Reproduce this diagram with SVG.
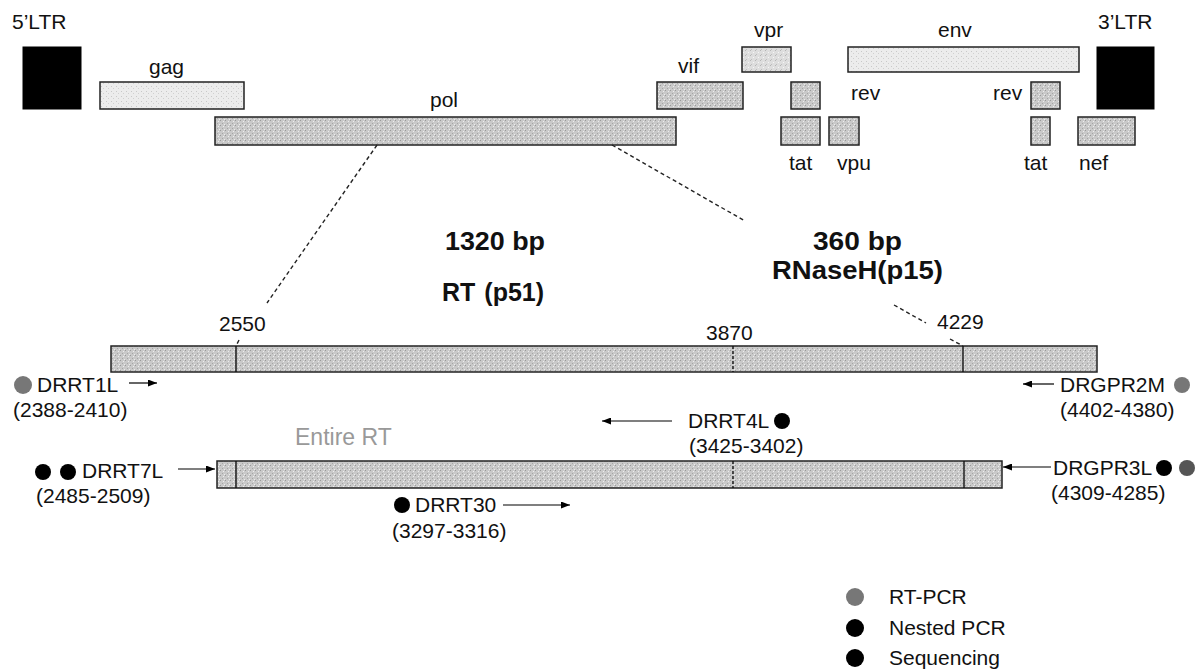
<svg xmlns="http://www.w3.org/2000/svg" width="1204" height="670" viewBox="0 0 1204 670">
<defs>
  <pattern id="stip" width="5" height="5" patternUnits="userSpaceOnUse">
    <rect width="5" height="5" fill="#c9c9c9"/>
    <rect x="0" y="0" width="1" height="1" fill="#9a9a9a"/>
    <rect x="3" y="1" width="1" height="1" fill="#eeeeee"/>
    <rect x="2" y="3" width="1" height="1" fill="#a5a5a5"/>
    <rect x="4" y="4" width="1" height="1" fill="#ececec"/>
  </pattern>
  <pattern id="stipL" width="5" height="5" patternUnits="userSpaceOnUse">
    <rect width="5" height="5" fill="#dedede"/>
    <rect x="0" y="0" width="1" height="1" fill="#b5b5b5"/>
    <rect x="3" y="2" width="1" height="1" fill="#f6f6f6"/>
    <rect x="1" y="4" width="1" height="1" fill="#bdbdbd"/>
  </pattern>
  <pattern id="stipXL" width="5" height="5" patternUnits="userSpaceOnUse">
    <rect width="5" height="5" fill="#ececec"/>
    <rect x="1" y="1" width="1" height="1" fill="#c8c8c8"/>
    <rect x="3" y="3" width="1" height="1" fill="#d0d0d0"/>
  </pattern>
  <marker id="ah" markerWidth="9" markerHeight="7" refX="9" refY="3.5" orient="auto" markerUnits="userSpaceOnUse">
    <path d="M0,0 L9,3.5 L0,7 z" fill="#000"/>
  </marker>
</defs>
<style>
  text{font-family:"Liberation Sans",Arial,sans-serif;fill:#111}
  .lbl{font-size:21px}
  .pr{font-size:21px}
  .b{font-size:25px;font-weight:bold}
  .gene{fill:url(#stip);stroke:#222;stroke-width:1.5}
  .ltr{fill:#000;stroke:#000;stroke-width:1}
  .bar{fill:url(#stip);stroke:#222;stroke-width:1.5}
  .dash{stroke:#222;stroke-width:1.4;stroke-dasharray:4 3;fill:none}
  .arr{stroke:#000;stroke-width:1.2;fill:none;marker-end:url(#ah)}
  .gdot{fill:#777}
  .kdot{fill:#000}
</style>

<!-- genome map -->
<g id="ltr5"><text class="lbl" x="12" y="29">5’LTR</text><rect class="ltr" x="23" y="47" width="58" height="62"/></g>
<g id="gag"><text class="lbl" x="149" y="74">gag</text><rect x="100" y="82" width="144" height="27" fill="url(#stipXL)" stroke="#222" stroke-width="1.5"/></g>
<g id="pol"><text class="lbl" x="430" y="107">pol</text><rect class="gene" x="215" y="117" width="461" height="28"/></g>
<g id="vif"><text class="lbl" x="678" y="73">vif</text><rect class="gene" x="657" y="82" width="86" height="27"/></g>
<g id="vpr"><text class="lbl" x="754" y="37">vpr</text><rect x="742" y="47" width="49" height="25" fill="url(#stipL)" stroke="#222" stroke-width="1.5"/></g>
<g id="rev1"><text class="lbl" x="851" y="100">rev</text><rect class="gene" x="791" y="82" width="29" height="27"/></g>
<g id="tat1"><text class="lbl" x="789" y="170">tat</text><rect class="gene" x="781" y="117" width="39" height="28"/></g>
<g id="vpu"><text class="lbl" x="837" y="170">vpu</text><rect class="gene" x="829" y="117" width="30" height="28"/></g>
<g id="env"><text class="lbl" x="938" y="37">env</text><rect x="848" y="47" width="231" height="25" fill="url(#stipXL)" stroke="#222" stroke-width="1.5"/></g>
<g id="rev2"><text class="lbl" x="993" y="100">rev</text><rect class="gene" x="1031" y="82" width="29" height="27"/></g>
<g id="tat2"><text class="lbl" x="1024" y="170">tat</text><rect class="gene" x="1031" y="117" width="19" height="28"/></g>
<g id="nef"><text class="lbl" x="1079" y="170">nef</text><rect class="gene" x="1078" y="117" width="57" height="28"/></g>
<g id="ltr3"><text class="lbl" x="1098" y="29">3’LTR</text><rect class="ltr" x="1097" y="47" width="57" height="62"/></g>

<!-- zoom connectors -->
<g id="connectors">
  <path class="dash" d="M377,145 L267,303"/>
  <path class="dash" d="M239,340 L236,346"/>
  <path class="dash" d="M612,145 L745,221"/>
  <path class="dash" d="M894,305 L926,323"/>
  <path class="dash" d="M950,339 L963,346"/>
  <line class="arr" x1="129" y1="383" x2="157" y2="383"/>
  <line class="arr" x1="1054" y1="384" x2="1023" y2="384"/>
  <line class="arr" x1="672" y1="421" x2="602" y2="421"/>
  <line class="arr" x1="178" y1="469" x2="215" y2="469"/>
  <line class="arr" x1="503" y1="505" x2="570" y2="505"/>
  <line class="arr" x1="1051" y1="467" x2="1003" y2="467"/>
</g>

<!-- region labels -->
<g id="rt-label"><text class="b" x="445" y="250" textLength="100" lengthAdjust="spacingAndGlyphs">1320 bp</text><text class="b" x="442" y="301">RT<tspan dx="9">(p51)</tspan></text></g>
<g id="rnaseh-label"><text class="b" x="813" y="250" textLength="89" lengthAdjust="spacingAndGlyphs">360 bp</text><text class="b" x="772" y="279" textLength="171" lengthAdjust="spacingAndGlyphs">RNaseH(p15)</text></g>

<!-- pol expanded bar -->
<g id="pol-bar">
  <rect class="bar" x="111" y="346" width="986" height="26"/>
  <line x1="236" y1="346" x2="236" y2="372" stroke="#111" stroke-width="1.4"/>
  <line x1="733" y1="346" x2="733" y2="372" stroke="#111" stroke-width="1.4" stroke-dasharray="3 2"/>
  <line x1="963" y1="346" x2="963" y2="372" stroke="#111" stroke-width="1.4"/>
  <text class="pr" x="219" y="331">2550</text>
  <text class="pr" x="706" y="340">3870</text>
  <text class="pr" x="937" y="329">4229</text>
</g>

<!-- entire RT bar -->
<g id="entire-rt">
  <text x="295" y="445" style="font-size:23px;fill:#999">Entire RT</text>
  <rect class="bar" x="217" y="461" width="785" height="27"/>
  <line x1="236" y1="461" x2="236" y2="488" stroke="#111" stroke-width="1.4"/>
  <line x1="733" y1="461" x2="733" y2="488" stroke="#111" stroke-width="1.4" stroke-dasharray="3 2"/>
  <line x1="964" y1="461" x2="964" y2="488" stroke="#111" stroke-width="1.4"/>
</g>

<!-- primers -->
<g id="DRRT1L"><circle class="gdot" cx="23" cy="385" r="9"/><text class="pr" x="37" y="392">DRRT1L</text><text class="pr" x="13" y="417">(2388-2410)</text></g>
<g id="DRGPR2M"><text class="pr" x="1060" y="392">DRGPR2M</text><circle class="gdot" cx="1182" cy="385" r="8"/><text class="pr" x="1060" y="417">(4402-4380)</text></g>
<g id="DRRT4L"><text class="pr" x="688" y="428">DRRT4L</text><circle class="kdot" cx="782" cy="421" r="8"/><text class="pr" x="689" y="453">(3425-3402)</text></g>
<g id="DRRT7L"><circle class="kdot" cx="43" cy="472" r="8"/><circle class="kdot" cx="68" cy="472" r="8"/><text class="pr" x="82" y="478">DRRT7L</text><text class="pr" x="36" y="503">(2485-2509)</text></g>
<g id="DRRT30"><circle class="kdot" cx="402" cy="505" r="8"/><text class="pr" x="415" y="512">DRRT30</text><text class="pr" x="392" y="538">(3297-3316)</text></g>
<g id="DRGPR3L"><text class="pr" x="1053" y="475">DRGPR3L</text><circle class="kdot" cx="1164" cy="468" r="8"/><circle cx="1187" cy="468" r="8" fill="#555"/><text class="pr" x="1051" y="500">(4309-4285)</text></g>

<!-- legend -->
<g id="legend">
  <circle class="gdot" cx="855" cy="597" r="9"/><text class="pr" x="889" y="604">RT-PCR</text>
  <circle class="kdot" cx="855" cy="628" r="9"/><text class="pr" x="889" y="635">Nested PCR</text>
  <circle class="kdot" cx="855" cy="658" r="9"/><text class="pr" x="889" y="665">Sequencing</text>
</g>
</svg>
